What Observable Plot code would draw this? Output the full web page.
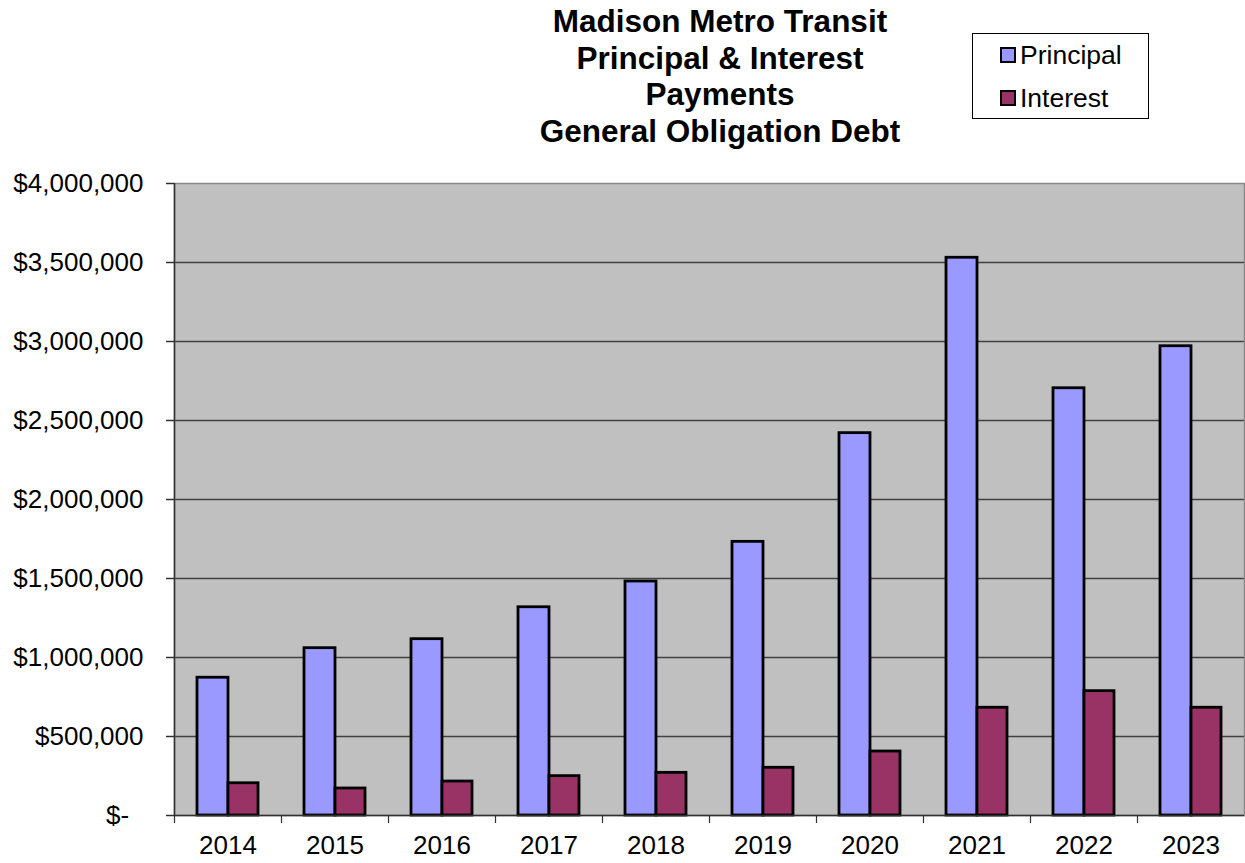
<!DOCTYPE html>
<html>
<head>
<meta charset="utf-8">
<script src="https://cdn.jsdelivr.net/npm/d3@7"></script>
<script src="https://cdn.jsdelivr.net/npm/@observablehq/plot@0.6"></script>
<style>
  html, body { margin: 0; padding: 0; background: white; }
  #wrap { position: relative; width: 1245px; height: 863px; font-family: "Liberation Sans", Arial, sans-serif; }
  #title { position: absolute; left: 420px; width: 600px; top: 3px; text-align: center; font-weight: bold; font-size: 31.5px; line-height: 36.5px; color: black; }
  #legend { position: absolute; left: 972px; top: 33px; width: 175px; height: 84px; border: 1.5px solid black; box-sizing: content-box; background: white; }
  .li { position: absolute; left: 27px; font-size: 26.5px; line-height: 26px; color: black; white-space: nowrap; }
  .sw { display: inline-block; width: 12px; height: 12px; border: 2px solid black; margin-right: 4px; vertical-align: 1px; }
  #chart { position: absolute; left: 0; top: 0; }
</style>
</head>
<body>
<div id="wrap">
  <div id="chart"></div>
  <div id="title"></div>
  <div id="legend"></div>
</div>
<script>
const titleLines = ["Madison Metro Transit", "Principal & Interest", "Payments", "General Obligation Debt"];
const years = ["2014", "2015", "2016", "2017", "2018", "2019", "2020", "2021", "2022", "2023"];
const principal = [872000, 1059000, 1116000, 1318000, 1481000, 1732000, 2420000, 3530000, 2704000, 2970000];
const interest = [204000, 171000, 215000, 249000, 270000, 302000, 405000, 682000, 787000, 682000];
const seriesNames = ["Principal", "Interest"];
const seriesColors = ["#9999ff", "#993366"];
const yTicks = [0, 500000, 1000000, 1500000, 2000000, 2500000, 3000000, 3500000, 4000000];

document.getElementById("title").innerHTML = titleLines.map(t => `<div>${t.replace("&", "&amp;")}</div>`).join("");
document.getElementById("legend").innerHTML = seriesNames.map((n, i) =>
  `<div class="li" style="top:${8 + i * 43}px"><span class="sw" style="background:${seriesColors[i]}"></span>${n}</div>`).join("");

const pRows = years.map((y, i) => ({year: y, value: principal[i]}));
const iRows = years.map((y, i) => ({year: y, value: interest[i]}));

const fmt = v => v === 0 ? "$-\u2007" : "$" + d3.format(",")(v);

const chart = Plot.plot({
  width: 1245,
  height: 863,
  marginLeft: 174,
  marginRight: 1,
  marginTop: 183,
  marginBottom: 48,
  style: {fontFamily: "'Liberation Sans', Arial, sans-serif", fontSize: "26px", color: "black", background: "transparent", overflow: "visible"},
  x: {type: "band", domain: years, padding: 0, axis: null, label: null},
  y: {domain: [0, 4000000], axis: null, label: null},
  marks: [
    Plot.frame({fill: "#c0c0c0", stroke: null}),
    Plot.gridY(yTicks.filter(t => t > 0 && t < 4000000), {stroke: "#404040", strokeOpacity: 1, strokeWidth: 1.5}),
    Plot.frame({stroke: "#888888", strokeWidth: 1.5}),
    Plot.barY(pRows, {x: "year", y: "value", fill: seriesColors[0], stroke: "black", strokeWidth: 2.8, insetLeft: 23, insetRight: 53}),
    Plot.barY(iRows, {x: "year", y: "value", fill: seriesColors[1], stroke: "black", strokeWidth: 2.8, insetLeft: 54, insetRight: 23}),
    Plot.ruleY([0], {stroke: "#303030", strokeWidth: 1.5}),
    Plot.ruleX([years[0]], {dx: -53.5, stroke: "#303030", strokeWidth: 1.5}),
    Plot.axisY({ticks: yTicks, tickFormat: fmt, tickSize: 8, tickPadding: 23, fontSize: 26, label: null, stroke: "#303030", strokeWidth: 1.5}),
    Plot.axisX({tickSize: 8, dx: -53.5, tickFormat: () => "", label: null, stroke: "#303030", strokeWidth: 1.2}),
    Plot.axisX({tickSize: 0, tickPadding: 20, fontSize: 26, label: null})
  ]
});
document.getElementById("chart").appendChild(chart);
</script>
</body>
</html>
